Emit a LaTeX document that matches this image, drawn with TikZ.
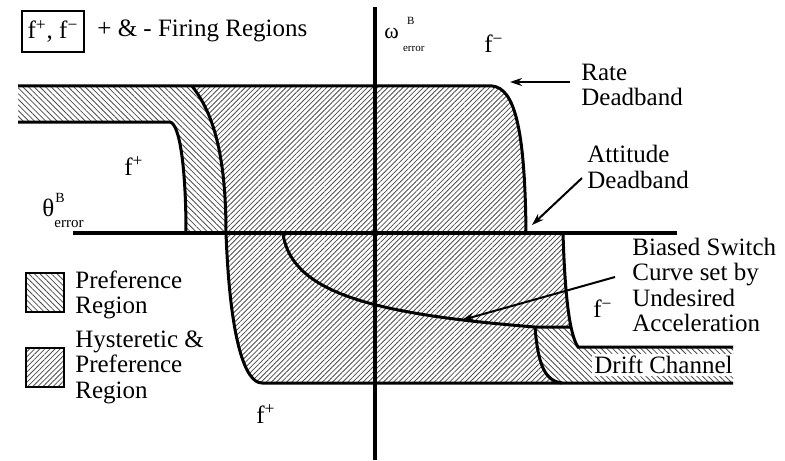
\documentclass[tikz,border=0pt]{standalone}
\usepackage{fontspec}
\setmainfont{Liberation Serif}
\usetikzlibrary{arrows.meta,patterns.meta}

\begin{document}
\begin{tikzpicture}[
  x=0.5pt,y=-0.5pt,
  font=\fontsize{12.5}{12.8}\selectfont,
  bound/.style={line width=1.5pt},
  axis/.style={line width=2pt},
  prefhatch/.style={pattern={Lines[angle=-45,distance=2pt,line width=0.4pt]},pattern color=black!70},
  hysthatch/.style={pattern={Lines[angle=45,distance=1.8pt,line width=0.4pt]},pattern color=black!70},
  txt/.style={inner sep=0pt,align=left,anchor=west},
  legbox/.style={draw,line width=1.3pt,minimum width=19pt,minimum height=19.5pt,inner sep=0pt},
  arrow/.style={-{Stealth[length=6pt,width=4pt]},line width=1pt}
]
\useasboundingbox (0,0) rectangle (785,460);
% hatched regions
\path[prefhatch] (18,86) -- (192,86) .. controls (215,115) and (226,160) .. (226,233) -- (186,233) .. controls (186,170) and (180,124) .. (170,122) -- (18,122) -- cycle;
\path[hysthatch] (192,86) -- (492,86) .. controls (515,88) and (525,130) .. (526,233) -- (226,233) .. controls (226,160) and (215,115) .. (192,86) -- cycle;
\path[hysthatch] (226,233) -- (563,233) .. controls (565,300) and (570,335) .. (578,347) -- (733,347) -- (733,383) -- (262,383) .. controls (245,383) and (230,340) .. (226,233) -- cycle;
\begin{scope}
\clip (226,233) -- (563,233) .. controls (565,300) and (570,335) .. (578,347) -- (733,347) -- (733,383) -- (262,383) .. controls (245,383) and (230,340) .. (226,233) -- cycle;
\path[preaction={fill=white},prefhatch] (535,327) -- (745,327) -- (745,390) -- (562,390) -- (562,383) .. controls (545,381) and (538,365) .. (535,327) -- cycle;
\end{scope}
% boundaries
\draw[bound] (18,86) -- (492,86) .. controls (515,88) and (525,130) .. (526,233);
\draw[bound] (18,122) -- (170,122) .. controls (180,124) and (186,170) .. (186,233);
\draw[bound] (192,86) .. controls (215,115) and (226,160) .. (226,233) .. controls (230,340) and (245,383) .. (262,383) -- (733,383);
\draw[bound] (563,233) .. controls (565,300) and (570,335) .. (578,347) -- (733,347);
\draw[bound] (283,234) .. controls (292,292) and (370,314) .. (535,327) -- (571,327);
\draw[bound] (535,327) .. controls (538,365) and (545,381) .. (562,383);
% axes
\draw[axis] (73,233) -- (677,233);
\draw[axis] (375,7) -- (375,460);

\node[draw,line width=1.3pt,minimum width=31pt,minimum height=20.5pt,inner sep=0pt] (key) at (53,31.5) {f\textsuperscript{+}, f\textsuperscript{−}};
\node[txt] (firing) at (97,31) {+ \& - Firing Regions};
\node[txt] (omega) at (384,33) {{\fontsize{11}{11}\selectfont ω}\,\begin{tabular}[c]{@{}l@{}}\fontsize{5.5}{7}\selectfont\hspace{2pt}B\\[1pt]\fontsize{5.5}{7}\selectfont error\end{tabular}};
\node[txt] (theta) at (42,210) {θ\begin{tabular}[c]{@{}l@{}}\fontsize{7}{7}\selectfont\hspace{0.5pt}B\\[0pt]\fontsize{7.5}{7}\selectfont error\end{tabular}};
\node[inner sep=0pt] (fpos1) at (134,166) {f\textsuperscript{+}};
\node[inner sep=0pt] (fneg1) at (494,44) {f\textsuperscript{−}};
\node[inner sep=0pt] (fneg2) at (603,309) {f\textsuperscript{−}};
\node[inner sep=0pt] (fpos2) at (266,414) {f\textsuperscript{+}};

\node[txt] (rate) at (581,85) {Rate\\Deadband};
\node[txt] (att) at (587,167) {Attitude\\Deadband};
\node[txt] (bias) at (632,285) {Biased Switch\\Curve set by\\Undesired\\Acceleration};
\node[txt,fill=white,inner sep=1pt] (drift) at (592,365) {Drift Channel};

\node[legbox,prefhatch] (legpref) at (45,292.5) {};
\node[legbox,hysthatch] (leghyst) at (45,367.5) {};
\node[txt] (legpreftxt) at (75,295) {Preference\\Region};
\node[txt] (leghysttxt) at (75,367) {Hysteretic \&\\Preference\\Region};

\coordinate (ratetip) at (510,82);
\coordinate (atttip) at (532,225);
\coordinate (biastip) at (462,320);
\draw[arrow] ([xshift=-5.5pt,yshift=1.5pt]rate.west) -- (ratetip);
\draw[arrow] ([xshift=-2.5pt,yshift=-5.5pt]att.west) -- (atttip);
\draw[arrow] ([xshift=-8.5pt,yshift=4pt]bias.west) -- (biastip);
\end{tikzpicture}
\end{document}
